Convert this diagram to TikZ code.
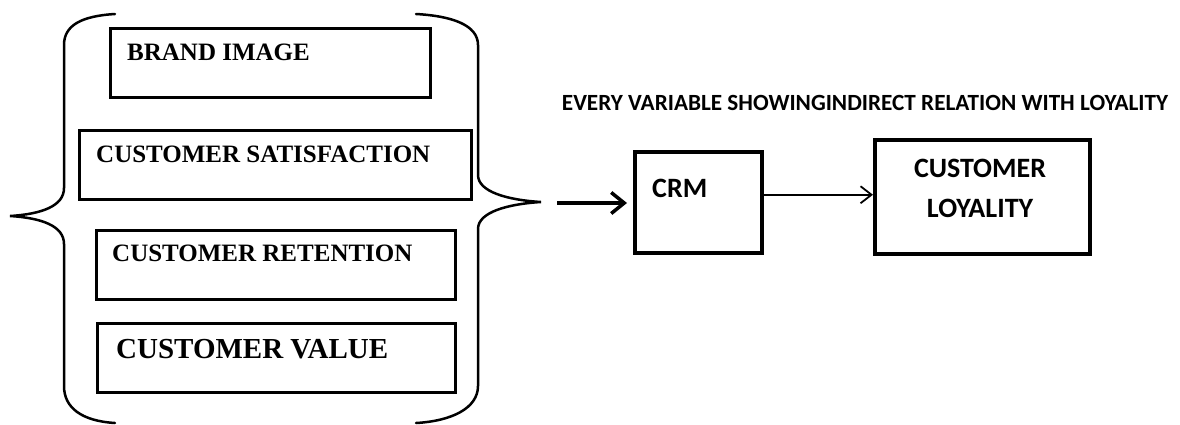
\documentclass[tikz,border=0pt]{standalone}
\usepackage{fontspec}
\setmainfont{Liberation Serif}
\newfontfamily\calfont{Carlito}
\usetikzlibrary{arrows.meta}
\begin{document}
\begin{tikzpicture}[x=1pt,y=-1pt,
  lbox/.style={draw, line width=2.5pt, inner sep=0pt, anchor=north west},
  rbox/.style={draw, line width=3.5pt, inner sep=0pt, anchor=north west},
  ltext/.style={font=\bfseries\fontsize{25}{30}\selectfont, anchor=west, inner sep=0pt},
  rtext/.style={font=\calfont\bfseries\fontsize{28}{40}\selectfont, inner sep=0pt},
  brace/.style={line width=2.5pt, line cap=round},
  thickarrow/.style={line width=3.5pt, -{Straight Barb[length=13pt,width=21pt]}},
  thinarrow/.style={line width=1.8pt, -{Straight Barb[length=11pt,width=17pt]}}]
\useasboundingbox (0,0) rectangle (1180,424);
% left boxes
\node[lbox, minimum width=320pt, minimum height=69pt] (bi) at (109,27) {};
\node[lbox, minimum width=392pt, minimum height=69pt] (cs) at (78,129) {};
\node[lbox, minimum width=359pt, minimum height=69pt] (cr) at (95,229) {};
\node[lbox, minimum width=358pt, minimum height=69pt] (cv) at (96,322) {};
\node[ltext] (tbi) at (127,52) {BRAND IMAGE};
\node[ltext] (tcs) at (96,154) {CUSTOMER SATISFACTION};
\node[ltext] (tcr) at (112,253) {CUSTOMER RETENTION};
\node[ltext, font=\bfseries\fontsize{29}{34}\selectfont] (tcv) at (116,349) {CUSTOMER VALUE};
% braces
\draw[brace] (115,14) .. controls (82,16) and (64,25) .. (64,45) -- (64,188)
  .. controls (64,206) and (42,214) .. (10,216)
  .. controls (42,218) and (64,226) .. (64,244) -- (64,386)
  .. controls (64,408) and (82,421) .. (115,423);
\draw[brace] (416,14) .. controls (452,16) and (478,25) .. (478,45) -- (478,175)
  .. controls (478,192) and (508,200) .. (541,202)
  .. controls (508,204) and (478,212) .. (478,229) -- (478,386)
  .. controls (478,408) and (452,421) .. (416,423);
% right part
\node[font=\calfont\bfseries\fontsize{23.2}{27}\selectfont, inner sep=0pt] (title) at (865,103)
  {EVERY VARIABLE SHOWINGINDIRECT RELATION WITH LOYALITY};
\node[rbox, minimum width=127pt, minimum height=101pt] (crm) at (633,150) {};
\node[rtext, anchor=west] (tcrm) at (652,188) {CRM};
\node[rbox, minimum width=215pt, minimum height=114pt] (loy) at (873,138) {};
\node[rtext, align=center] (tloy) at (980,188) {CUSTOMER\\LOYALITY};
% arrows
\coordinate (in) at (557,203);
\draw[thickarrow, shorten >=6pt] (in) -- (crm.west |- in);
\draw[thinarrow] ([yshift=2pt]crm.east |- loy.west) -- ([yshift=2pt]loy.west);
\end{tikzpicture}
\end{document}
